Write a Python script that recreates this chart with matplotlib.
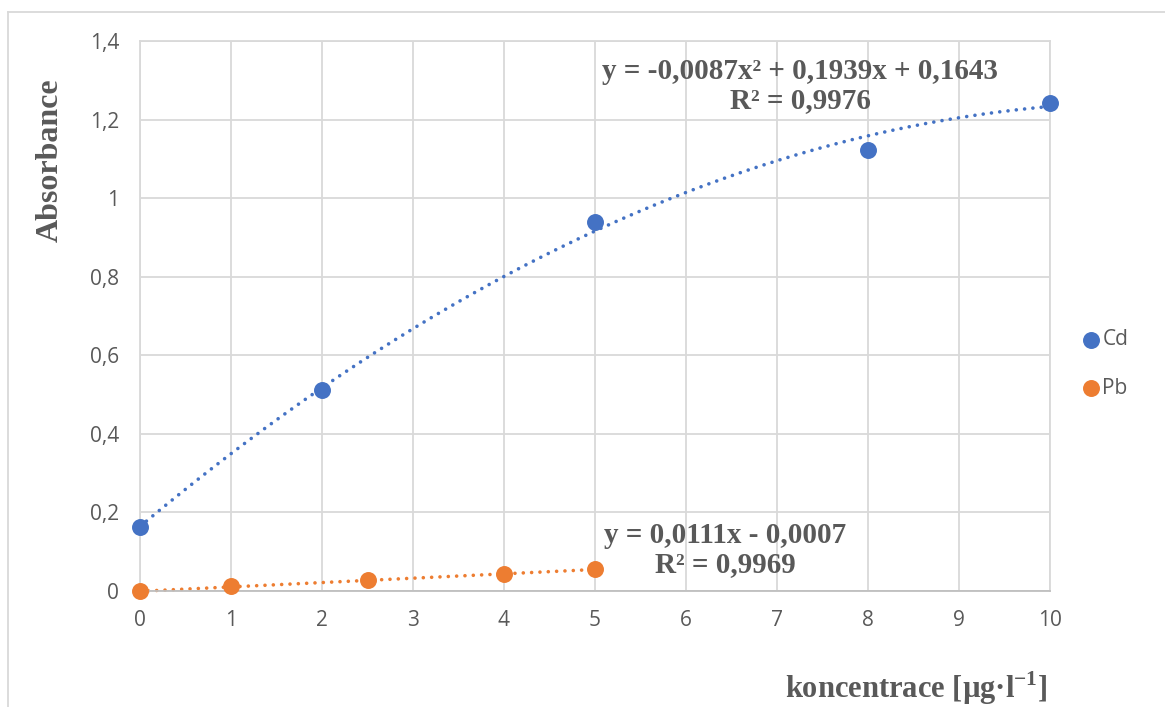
import numpy as np
import matplotlib
matplotlib.use("Agg")
from matplotlib import pyplot as plt
from matplotlib.lines import Line2D

plt.rcParams['mathtext.fontset'] = 'custom'
plt.rcParams['mathtext.rm'] = 'Liberation Serif'
plt.rcParams['mathtext.bf'] = 'Liberation Serif:bold'

# data
cd_x = [0, 2, 5, 8, 10]
cd_y = [0.164, 0.511, 0.940, 1.123, 1.243]
pb_x = [0, 1, 2.5, 4, 5]
pb_y = [0.001, 0.012, 0.028, 0.043, 0.057]

# trendline coefficients as printed on the chart
cd_fit = [-0.0087, 0.1939, 0.1643]
pb_fit = [0.0111, -0.0007]

x_ticks = [0, 1, 2, 3, 4, 5, 6, 7, 8, 9, 10]
y_ticks = [0, 0.2, 0.4, 0.6, 0.8, 1.0, 1.2, 1.4]
y_labels = ['0', '0,2', '0,4', '0,6', '0,8', '1', '1,2', '1,4']

blue = '#4472C4'
orange = '#ED7D31'
grey_txt = '#595959'
grid_col = '#D9D9D9'
serif = ['Liberation Serif', 'DejaVu Serif']
sans = ['Open Sans', 'DejaVu Sans']

W, H = 1165, 707
fig = plt.figure(figsize=(W / 100, H / 100), dpi=100)
ax = fig.add_axes([140 / W, 1 - 591 / H, (1050 - 140) / W, (591 - 41) / H])

# trendlines
xc = np.linspace(0, 10, 200)
ax.plot(xc, np.polyval(cd_fit, xc), color=blue, lw=2.6,
        linestyle=(0, (0.01, 2.3)), dash_capstyle='round', clip_on=False)
xp = np.linspace(0, 5, 100)
ax.plot(xp, np.polyval(pb_fit, xp), color=orange, lw=2.6,
        linestyle=(0, (0.01, 2.3)), dash_capstyle='round', clip_on=False)

# points
ax.scatter(cd_x, cd_y, s=125, color=blue, zorder=5, clip_on=False, label='Cd')
ax.scatter(pb_x, pb_y, s=125, color=orange, zorder=5, clip_on=False, label='Pb')

ax.set_xlim(0, 10)
ax.set_ylim(0, 1.4)
ax.set_xticks(x_ticks)
ax.set_xticklabels([str(t) for t in x_ticks])
ax.set_yticks(y_ticks)
ax.set_yticklabels(y_labels)
ax.tick_params(length=0, labelsize=15, labelcolor=grey_txt)
ax.tick_params(axis='x', pad=14)
ax.tick_params(axis='y', pad=15)
for lab in ax.get_xticklabels() + ax.get_yticklabels():
    lab.set_family(sans)
ax.grid(True, color=grid_col, lw=1.3)
ax.set_axisbelow(True)
for sp in ax.spines.values():
    sp.set_color(grid_col)
    sp.set_linewidth(1.3)
ax.spines['bottom'].set_color('#BFBFBF')

# trendline equations
fig.text(800 / W, 1 - 86 / H, 'y = -0,0087x² + 0,1939x + 0,1643\nR² = 0,9976',
         ha='center', va='center', fontsize=21, fontweight='bold',
         color=grey_txt, family=serif, linespacing=1.08)
fig.text(725 / W, 1 - 550 / H, 'y = 0,0111x - 0,0007\nR² = 0,9969',
         ha='center', va='center', fontsize=21, fontweight='bold',
         color=grey_txt, family=serif, linespacing=1.08)

# axis titles
fig.text(50 / W, 1 - 160 / H, 'Absorbance', rotation=90, ha='center', va='center',
         fontsize=23, fontweight='bold', color=grey_txt, family=serif)
fig.text(916 / W, 1 - 688 / H, r'koncentrace [µg·l$^{\mathbf{-1}}$]', ha='center', va='center',
         fontsize=22, fontweight='bold', color=grey_txt, family=serif)

# legend
leg = fig.legend(loc='center left', bbox_to_anchor=(1070 / W, 1 - 364 / H),
                 frameon=False, fontsize=15, labelspacing=1.3,
                 handletextpad=0.05, handlelength=1.0, borderpad=0)
for t in leg.get_texts():
    t.set_color(grey_txt)
    t.set_family(sans)

# outer chart border (top and left only visible)
fig.add_artist(Line2D([8 / W, 1], [1 - 12 / H, 1 - 12 / H], color=grid_col, lw=1.3))
fig.add_artist(Line2D([8 / W, 8 / W], [0, 1 - 12 / H], color=grid_col, lw=1.3))

fig.savefig('out.png', dpi=100)
